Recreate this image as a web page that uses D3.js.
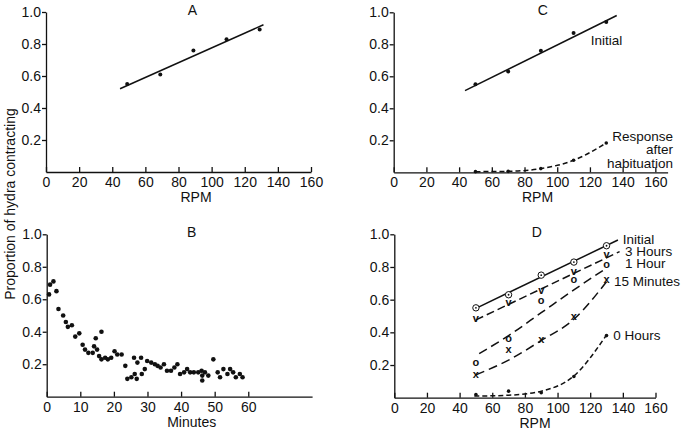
<!DOCTYPE html>
<html>
<head>
<meta charset="utf-8">
<script src="https://cdn.jsdelivr.net/npm/d3@7"></script>
<style>
  html, body { margin: 0; padding: 0; background: #fff; }
  svg { display: block; }
</style>
</head>
<body>
<div id="chart"></div>
<script>
/* Hydra contraction vs RPM / minutes — four panels A-D */

var FONT = "'Liberation Sans', Arial, sans-serif";
var INK = "#111";

var Y_TICKS = [0.2, 0.4, 0.6, 0.8, 1.0];
var RPM_TICKS = [0, 20, 40, 60, 80, 100, 120, 140, 160];
var MIN_TICKS = [0, 10, 20, 30, 40, 50, 60];

// Panel A
var RPM_A = [49, 69, 89, 109, 129];
var A_PROP = [0.55, 0.61, 0.76, 0.83, 0.89];
var A_FIT = [[44.7, 0.52], [131.3, 0.92]];

// Panel B — minutes of stimulation vs proportion contracting
var B_MIN = [0.7, 1.0, 2.0, 2.9, 3.5, 4.9, 5.7, 6.3, 7.5, 8.5,
  9.7, 10.7, 11.4, 12.4, 13.7, 14.1, 14.6, 15.0, 15.6, 16.3,
  16.3, 17.4, 18.2, 19.2, 20.2, 21.0, 22.3, 23.4, 24.0, 25.2,
  26.0, 26.2, 26.8, 27.0, 28.1, 28.3, 29.2, 29.9, 31.1, 32.2,
  33.0, 33.9, 34.9, 35.8, 37.0, 38.0, 38.9, 39.7, 40.9, 41.8,
  42.7, 43.8, 45.1, 46.1, 46.3, 46.3, 47.1, 48.1, 49.6, 50.9,
  51.6, 52.6, 53.8, 54.6, 55.5, 56.3, 57.5, 58.3];
var B_PROP = [0.63, 0.69, 0.71, 0.65, 0.54, 0.50, 0.46, 0.43, 0.44, 0.37,
  0.39, 0.32, 0.29, 0.27, 0.27, 0.31, 0.36, 0.29, 0.25, 0.40,
  0.23, 0.24, 0.23, 0.24, 0.28, 0.26, 0.26, 0.19, 0.11, 0.12,
  0.24, 0.14, 0.11, 0.21, 0.24, 0.14, 0.17, 0.22, 0.21, 0.20,
  0.19, 0.18, 0.20, 0.16, 0.16, 0.18, 0.20, 0.14, 0.15, 0.17,
  0.15, 0.15, 0.15, 0.16, 0.13, 0.10, 0.15, 0.13, 0.23, 0.15,
  0.12, 0.17, 0.14, 0.17, 0.15, 0.12, 0.14, 0.12];

// Panels C and D share these stimulus speeds
var RPM = [50, 70, 90, 110, 130];

// Panel C
var C_INITIAL = [0.55, 0.63, 0.76, 0.87, 0.94];
var C_INITIAL_FIT = [[43.6, 0.51], [136.4, 0.98]];
var C_HABIT = [0.004, 0.006, 0.023, 0.075, 0.183];

// Panel D — recovery after habituation
var D_INITIAL = [0.55, 0.63, 0.75, 0.83, 0.93];
var D_3H = [0.48, 0.58, 0.65, 0.77, 0.87];
var D_1H = [0.21, 0.36, 0.59, 0.72, 0.81];
var D_15M = [0.14, 0.29, 0.35, 0.49, 0.72];
var D_0H = [0.02, 0.04, 0.03, 0.13, 0.38];
var D_INITIAL_FIT = [[50, 0.547], [137, 0.965]];
var D_3H_FIT = [[50, 0.476], [138, 0.894]];
var D_1H_FIT = [[52, 0.27], [70, 0.38], [90, 0.52], [110, 0.66], [128, 0.78]];
var D_15M_FIT = [[50, 0.14], [70, 0.23], [90, 0.35], [110, 0.48], [130, 0.71]];
var D_0H_FIT = [[49, 0.01], [70, 0.015], [90, 0.04], [110, 0.133], [130, 0.384]];

var svg = d3.select("#chart").append("svg")
  .attr("width", 685).attr("height", 433)
  .attr("font-family", FONT)
  .style("background", "#fff");

function styleAxis(g) {
  g.attr("font-family", FONT).attr("font-size", 14);
  g.selectAll("path, line").attr("stroke", INK).attr("stroke-width", 1.3);
  g.selectAll("text").attr("fill", INK);
}

// Draws the axes of one panel and returns its scales
function panel(opt) {
  var x = d3.scaleLinear().domain(opt.xDomain).range([opt.left, opt.right]);
  var y = d3.scaleLinear().domain([0, 1]).range([opt.bottom, opt.top]);

  svg.append("g")
    .attr("transform", "translate(0," + opt.bottom + ")")
    .call(d3.axisBottom(x).tickValues(opt.xTicks).tickSizeInner(-5).tickSizeOuter(0)
      .tickPadding(5).tickFormat(d3.format("d")))
    .call(styleAxis);

  svg.append("g")
    .attr("transform", "translate(" + opt.left + ",0)")
    .call(d3.axisLeft(y).tickValues(Y_TICKS).tickSizeInner(4).tickSizeOuter(0)
      .tickPadding(1).tickFormat(d3.format(".1f")))
    .call(styleAxis);

  svg.append("text")
    .attr("x", opt.titleX).attr("y", opt.top + 3)
    .attr("text-anchor", "middle").attr("font-size", 14).attr("fill", INK)
    .text(opt.title);

  svg.append("text")
    .attr("x", opt.xLabelX).attr("y", opt.bottom + 30)
    .attr("text-anchor", "middle").attr("font-size", 14).attr("fill", INK)
    .text(opt.xLabel);

  return { x: x, y: y };
}

function line(s, pts, curve, dash) {
  var gen = d3.line()
    .x(function(d) { return s.x(d[0]); })
    .y(function(d) { return s.y(d[1]); })
    .curve(curve || d3.curveLinear);
  svg.append("path")
    .datum(pts)
    .attr("d", gen)
    .attr("fill", "none")
    .attr("stroke", INK)
    .attr("stroke-width", 1.5)
    .attr("stroke-dasharray", dash || null);
}

function dots(s, xs, ys, r) {
  svg.append("g").selectAll("circle")
    .data(xs.map(function(v, i) { return [v, ys[i]]; }))
    .enter().append("circle")
    .attr("cx", function(d) { return s.x(d[0]); })
    .attr("cy", function(d) { return s.y(d[1]); })
    .attr("r", r)
    .attr("fill", INK);
}

// letter markers (v, o, x) used in panel D
function glyphs(s, xs, ys, ch) {
  svg.append("g").selectAll("text")
    .data(xs.map(function(v, i) { return [v, ys[i]]; }))
    .enter().append("text")
    .attr("x", function(d) { return s.x(d[0]); })
    .attr("y", function(d) { return s.y(d[1]) + 2.8; })
    .attr("text-anchor", "middle")
    .attr("font-size", 11)
    .attr("font-weight", "bold")
    .attr("fill", INK)
    .text(ch);
}

function label(x, y, txt, anchor) {
  svg.append("text")
    .attr("x", x).attr("y", y)
    .attr("text-anchor", anchor || "start")
    .attr("font-size", 13.5).attr("fill", INK)
    .text(txt);
}

// ---- Panel A ----
var pA = panel({ xDomain: [0, 160], left: 46, right: 311, top: 12, bottom: 172,
  xTicks: RPM_TICKS, title: "A", titleX: 192.5, xLabel: "RPM", xLabelX: 196 });
line(pA, A_FIT);
dots(pA, RPM_A, A_PROP, 2);

// ---- Panel B ----
var pB = panel({ xDomain: [0, 79], left: 46.7, right: 312.1, top: 234.3, bottom: 396.7,
  xTicks: MIN_TICKS, title: "B", titleX: 191.7, xLabel: "Minutes", xLabelX: 191.7 });
dots(pB, B_MIN, B_PROP, 2.3);

// ---- Panel C ----
var pC = panel({ xDomain: [0, 167.5], left: 393.7, right: 667.6, top: 12.3, bottom: 172.3,
  xTicks: RPM_TICKS, title: "C", titleX: 542.7, xLabel: "RPM", xLabelX: 537.5 });
line(pC, C_INITIAL_FIT);
dots(pC, RPM, C_INITIAL, 2);
line(pC, RPM.map(function(r, i) { return [r, C_HABIT[i]]; }), d3.curveMonotoneX, "5,3");
dots(pC, RPM, C_HABIT, 1.8);
label(590.7, 45, "Initial");
label(673, 141, "Response", "end");
label(673, 154, "after", "end");
label(673, 167.5, "habituation", "end");

// ---- Panel D ----
var pD = panel({ xDomain: [0, 160], left: 394.3, right: 655.5, top: 234.3, bottom: 397.7,
  xTicks: RPM_TICKS, title: "D", titleX: 536.7, xLabel: "RPM", xLabelX: 535 });
line(pD, D_INITIAL_FIT);
line(pD, D_3H_FIT, null, "8,4");
line(pD, D_1H_FIT, d3.curveMonotoneX, "9,5");
line(pD, D_15M_FIT, d3.curveMonotoneX, "9,5");
line(pD, D_0H_FIT, d3.curveMonotoneX, "5,3");

svg.append("g").selectAll("circle")
  .data(RPM.map(function(r, i) { return [r, D_INITIAL[i]]; }))
  .enter().append("circle")
  .attr("cx", function(d) { return pD.x(d[0]); })
  .attr("cy", function(d) { return pD.y(d[1]); })
  .attr("r", 3.2)
  .attr("fill", "#fff")
  .attr("stroke", INK)
  .attr("stroke-width", 1);
dots(pD, RPM, D_INITIAL, 0.9);
glyphs(pD, RPM, D_3H, "v");
glyphs(pD, RPM, D_1H, "o");
glyphs(pD, RPM, D_15M, "x");
dots(pD, RPM, D_0H, 1.8);

label(622.7, 244, "Initial");
label(625, 256, "3 Hours");
label(625, 268, "1 Hour");
label(614, 285.7, "15 Minutes");
label(613.3, 340, "0 Hours");

// ---- shared y-axis title ----
svg.append("text")
  .attr("transform", "translate(15,204) rotate(-90)")
  .attr("text-anchor", "middle")
  .attr("font-size", 14)
  .attr("fill", INK)
  .text("Proportion of hydra contracting");
</script>
</body>
</html>
